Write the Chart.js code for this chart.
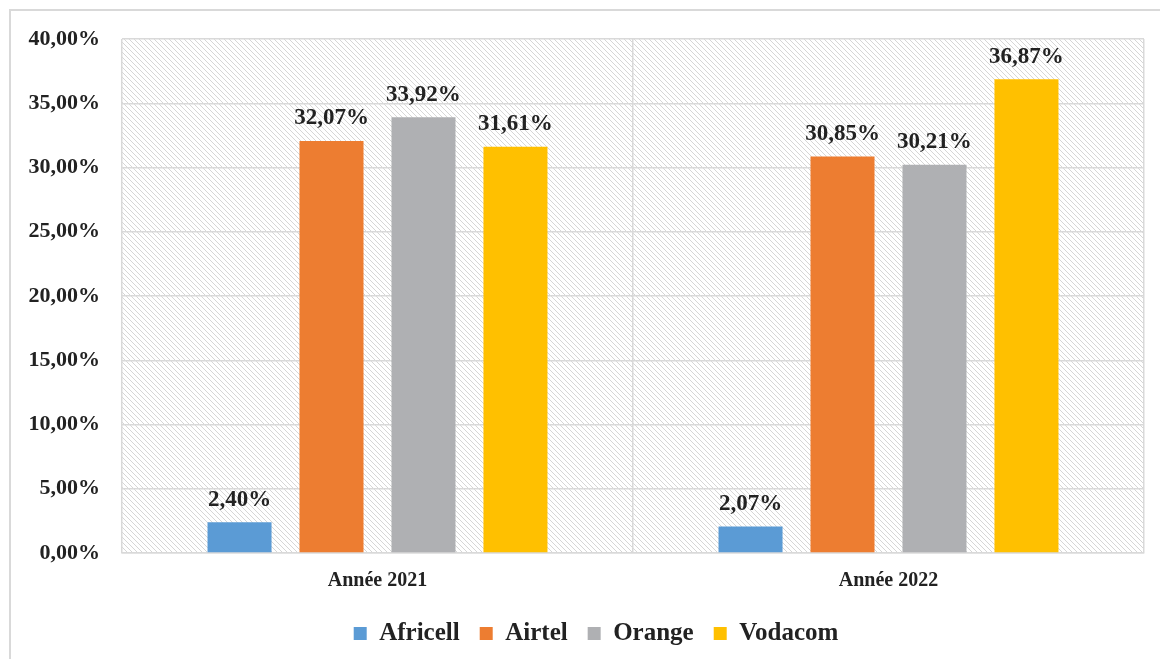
<!DOCTYPE html>
<html>
<head>
<meta charset="utf-8">
<script src="https://cdn.jsdelivr.net/npm/chart.js@4.4.1/dist/chart.umd.min.js"></script>
<style>
html,body{margin:0;padding:0;background:#fff;}
#wrap{width:1160px;height:659px;position:relative;}
</style>
</head>
<body>
<div id="wrap"><canvas id="c" width="1160" height="659"></canvas></div>
<script>
const categories = ["Année 2021", "Année 2022"];
const seriesNames = ["Africell", "Airtel", "Orange", "Vodacom"];
const africell = [2.40, 2.07];
const airtel = [32.07, 30.85];
const orange = [33.92, 30.21];
const vodacom = [31.61, 36.87];
const seriesColors = ["#5b9bd5", "#ed7d31", "#afb0b3", "#ffc000"];
const yMin = 0, yMax = 40, yStep = 5;

function fmtPct(v){ return v.toFixed(2).replace('.', ',') + '%'; }

function makeHatch(){
  const s = 5;
  const c = document.createElement('canvas');
  c.width = s; c.height = s;
  const g = c.getContext('2d');
  g.fillStyle = '#ffffff';
  g.fillRect(0,0,s,s);
  g.strokeStyle = '#d6d6d6';
  g.lineWidth = 1;
  for (let k=-1;k<=1;k++){
    g.beginPath();
    g.moveTo(k*s, 0);
    g.lineTo(k*s + s, s);
    g.stroke();
  }
  return c;
}

const hatchPlugin = {
  id: 'hatch',
  afterLayout(chart){
    if (chart.legend) { chart.legend.left += 48; }
  },
  beforeDraw(chart){
    const ctx = chart.ctx;
    const a = chart.chartArea;
    ctx.save();
    ctx.fillStyle = '#ffffff';
    ctx.fillRect(0,0,chart.width,chart.height);
    ctx.strokeStyle = '#d9d9d9';
    ctx.lineWidth = 2;
    ctx.strokeRect(10, 10, chart.width + 20, chart.height + 20);
    const pat = ctx.createPattern(makeHatch(), 'repeat');
    ctx.fillStyle = pat;
    ctx.fillRect(a.left, a.top, a.right - a.left, a.bottom - a.top);
    ctx.restore();
  }
};

const labelPlugin = {
  id: 'valueLabels',
  afterDatasetsDraw(chart){
    const ctx = chart.ctx;
    ctx.save();
    ctx.font = 'bold 23px "Liberation Serif"';
    ctx.fillStyle = '#222222';
    ctx.textAlign = 'center';
    ctx.textBaseline = 'bottom';
    chart.data.datasets.forEach((ds, i) => {
      const meta = chart.getDatasetMeta(i);
      meta.data.forEach((bar, j) => {
        ctx.fillText(fmtPct(ds.data[j]), bar.x, bar.y - 11);
      });
    });
    ctx.restore();
  }
};

const seriesData = [africell, airtel, orange, vodacom];
const datasets = seriesNames.map((n, i) => ({
  label: n,
  data: seriesData[i],
  backgroundColor: seriesColors[i],
  borderWidth: 0,
  categoryPercentage: 0.72,
  barPercentage: 0.696
}));

new Chart(document.getElementById('c'), {
  type: 'bar',
  data: { labels: categories, datasets },
  options: {
    responsive: false,
    animation: false,
    devicePixelRatio: 1,
    layout: { padding: { left: 0, right: 16, top: 39, bottom: 3 } },
    plugins: {
      legend: {
        position: 'bottom',
        labels: {
          font: { family: '"Liberation Serif"', size: 25, weight: 'bold' },
          color: '#222222',
          boxWidth: 13,
          boxHeight: 13,
          padding: 20
        }
      },
      tooltip: { enabled: false }
    },
    scales: {
      x: {
        grid: { color: '#d9d9d9', lineWidth: 1.5, offset: true, drawTicks: false },
        border: { color: '#d9d9d9', width: 1.5 },
        ticks: {
          font: { family: '"Liberation Serif"', size: 20, weight: 'bold' },
          color: '#222222',
          padding: 16
        },
        afterFit(s){ s.height = 48; }
      },
      y: {
        min: yMin, max: yMax,
        grid: { color: '#d9d9d9', lineWidth: 1.5, drawTicks: false },
        border: { display: false },
        ticks: {
          stepSize: yStep,
          font: { family: '"Liberation Serif"', size: 22, weight: 'bold' },
          color: '#222222',
          padding: 22,
          callback: v => fmtPct(v)
        },
        afterFit(s){ s.width = 122; }
      }
    }
  },
  plugins: [hatchPlugin, labelPlugin]
});
</script>
</body>
</html>
